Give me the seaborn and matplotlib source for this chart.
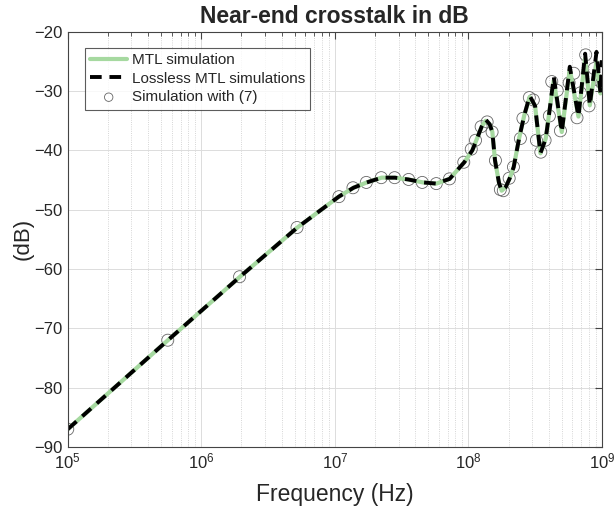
import numpy as np
import pandas as pd
import seaborn as sns
import matplotlib.pyplot as plt
from matplotlib.ticker import LogLocator, NullFormatter

# log10 of frequency (Hz) and crosstalk (dB) for the simulated curves
line_logf = [5.0, 5.75, 6.29, 6.72, 7.03, 7.14, 7.24, 7.35, 7.45, 7.55, 7.66, 7.76,
             7.86, 7.97, 8.03, 8.06, 8.10, 8.13, 8.16, 8.18, 8.20, 8.23, 8.25, 8.28,
             8.31, 8.34, 8.38, 8.42, 8.46, 8.50, 8.54, 8.58, 8.61, 8.64, 8.70, 8.76,
             8.825, 8.875, 8.91, 8.96, 8.99, 9.0]
mtl_db = [-87.0, -72.0, -61.3, -53.0, -47.8, -46.3, -45.4, -44.6, -44.6, -44.9, -45.4, -45.6,
          -44.8, -42.0, -40.0, -38.3, -36.0, -35.0, -35.6, -36.9, -41.7, -45.5, -46.8, -46.2,
          -44.7, -42.8, -38.0, -34.0, -31.0, -32.5, -40.5, -38.0, -33.0, -28.2, -36.9, -26.3,
          -34.3, -24.5, -32.4, -25.0, -30.4, -28.0]
lossless_db = [-87.0, -72.0, -61.3, -53.0, -47.8, -46.3, -45.4, -44.6, -44.6, -44.9, -45.4, -45.6,
               -44.8, -42.0, -40.0, -38.3, -36.0, -34.8, -35.6, -36.9, -41.7, -45.5, -46.8, -46.2,
               -44.7, -42.8, -38.0, -34.0, -30.8, -32.5, -40.5, -38.0, -33.0, -27.6, -36.9, -25.9,
               -34.3, -23.7, -32.4, -23.4, -30.4, -24.8]

# markers of the closed-form result
mark_logf = [5.0, 5.749, 6.287, 6.717, 7.031, 7.136, 7.236, 7.348, 7.448, 7.553, 7.655, 7.760,
             7.859, 7.966, 8.022, 8.054, 8.096, 8.141, 8.178, 8.203, 8.240, 8.262, 8.306, 8.338,
             8.39, 8.409, 8.457, 8.487, 8.51, 8.543, 8.575, 8.607, 8.625, 8.666, 8.69, 8.755,
             8.79, 8.814, 8.84, 8.879, 8.904, 8.942, 8.979, 9.0]
mark_db = [-87.0, -72.0, -61.3, -53.0, -47.8, -46.3, -45.4, -44.6, -44.6, -44.9, -45.4, -45.6,
           -44.8, -42.0, -39.8, -38.3, -36.0, -35.2, -36.9, -41.7, -46.6, -46.8, -44.7, -42.8,
           -38.0, -34.6, -31.1, -31.5, -38.3, -40.3, -38.3, -34.2, -28.4, -29.9, -36.7, -28.6,
           -27.0, -34.5, -30.3, -23.9, -32.5, -26.2, -28.2, -28.6]

line_df = pd.DataFrame({"freq": np.power(10.0, line_logf), "mtl": mtl_db, "lossless": lossless_db})
mark_df = pd.DataFrame({"freq": np.power(10.0, mark_logf), "db": mark_db})

sns.set_style("white")
plt.rcParams['font.family'] = ['Liberation Sans', 'DejaVu Sans']

fig = plt.figure(figsize=(6.16, 5.12), dpi=100)
ax = fig.add_axes([0.110, 0.127, 0.867, 0.811])

sns.lineplot(data=line_df, x="freq", y="mtl", ax=ax, color="#a6d9a0", linewidth=3,
             label="MTL simulation", sort=False)
sns.lineplot(data=line_df, x="freq", y="lossless", ax=ax, color="black", linewidth=2.8,
             dashes=False, label="Lossless MTL simulations", sort=False)
ax.lines[-1].set_linestyle((0, (3, 2)))
sns.scatterplot(data=mark_df, x="freq", y="db", ax=ax, marker="o", s=75,
                facecolors="none", edgecolor="#666666", linewidth=0.6,
                label="Simulation with (7)")

ax.set_xscale("log")
ax.set_xlim(1e5, 1e9)
ax.set_ylim(-90, -20)
ax.set_yticks(range(-90, -19, 10))
ax.xaxis.set_major_locator(LogLocator(base=10, numticks=10))
ax.xaxis.set_minor_locator(LogLocator(base=10, subs=np.arange(2, 10), numticks=50))
ax.xaxis.set_minor_formatter(NullFormatter())

ax.grid(True, which="major", color="#dcdcdc", linewidth=0.7)
ax.grid(True, which="minor", axis="x", color="#c8c8c8", linewidth=0.6, linestyle=":")
ax.tick_params(which="both", direction="in", top=True, right=True, labelsize=12, color="#444444")
ax.tick_params(which="major", length=5)
ax.tick_params(which="minor", length=3)
for s in ax.spines.values():
    s.set_color("#444444")
    s.set_linewidth(0.8)

ax.set_xlabel("Frequency (Hz)", fontsize=16.5, labelpad=8)
ax.set_ylabel("(dB)", fontsize=16, labelpad=1)
ax.set_title("Near-end crosstalk in dB", fontsize=16.5, fontweight="bold", pad=6)

leg = ax.legend(loc="upper left", bbox_to_anchor=(0.018, 0.98), fontsize=11, frameon=True,
                fancybox=False, edgecolor="#333333", borderpad=0.35, labelspacing=0.3,
                handlelength=2.4, handletextpad=0.3, markerscale=0.7)
leg.get_frame().set_linewidth(0.8)

fig.savefig("out.png", dpi=100)
